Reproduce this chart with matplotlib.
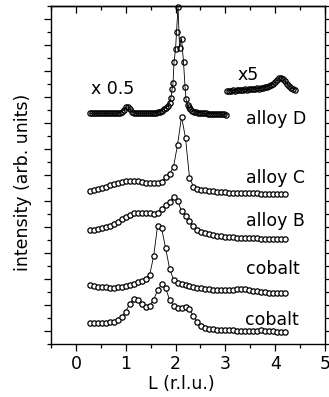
import matplotlib
matplotlib.use("Agg")
import matplotlib.pyplot as plt
from matplotlib.ticker import MultipleLocator

# ---------------- data ----------------
L_scan = [0.28, 0.36, 0.44, 0.52, 0.60, 0.68, 0.76, 0.84, 0.92, 1.00,
          1.08, 1.16, 1.24, 1.32, 1.40, 1.48, 1.56, 1.64, 1.72, 1.80,
          1.88, 1.96, 2.04, 2.12, 2.20, 2.28, 2.36, 2.44, 2.52, 2.60,
          2.68, 2.76, 2.84, 2.92, 3.00, 3.08, 3.16, 3.24, 3.32, 3.40,
          3.48, 3.56, 3.64, 3.72, 3.80, 3.88, 3.96, 4.04, 4.12, 4.20]

cobalt_1 = [1.59, 1.58, 1.58, 1.60, 1.62, 1.66, 1.70, 1.82, 2.05, 2.50,
            3.08, 3.44, 3.36, 3.08, 2.88, 2.94, 3.42, 4.12, 4.59, 4.30,
            3.40, 2.95, 2.74, 2.76, 2.86, 2.66, 2.15, 1.70, 1.38, 1.24,
            1.18, 1.14, 1.10, 1.08, 1.06, 1.05, 1.04, 1.03, 1.02, 1.02,
            1.01, 1.00, 1.00, 1.04, 1.02, 0.98, 0.97, 0.96, 0.96, 0.95]

cobalt_2 = [4.54, 4.45, 4.40, 4.37, 4.35, 4.34, 4.34, 4.36, 4.40, 4.46,
            4.54, 4.64, 4.74, 4.86, 5.00, 5.30, 6.75, 9.10, 8.90, 7.40,
            5.80, 4.95, 4.72, 4.60, 4.52, 4.45, 4.38, 4.32, 4.28, 4.24,
            4.20, 4.18, 4.16, 4.15, 4.15, 4.15, 4.16, 4.20, 4.24, 4.22,
            4.18, 4.10, 4.05, 4.00, 3.98, 3.96, 3.94, 3.92, 3.91, 3.90]

alloy_B = [8.77, 8.80, 8.84, 8.90, 8.98, 9.10, 9.25, 9.42, 9.60, 9.78,
           9.95, 10.05, 10.10, 10.10, 10.08, 10.04, 10.00, 10.10, 10.35, 10.70,
           10.92, 11.33, 11.00, 10.25, 9.82, 9.45, 9.05, 8.80, 8.62, 8.52,
           8.44, 8.38, 8.32, 8.28, 8.24, 8.22, 8.20, 8.18, 8.16, 8.15,
           8.14, 8.13, 8.12, 8.11, 8.10, 8.10, 8.09, 8.09, 8.08, 8.08]

alloy_C = [11.79, 11.85, 11.92, 12.00, 12.10, 12.22, 12.32, 12.42, 12.50, 12.55,
           12.56, 12.55, 12.52, 12.48, 12.42, 12.38, 12.36, 12.38, 12.50, 12.82,
           13.08, 13.65, 15.31, 17.49, 15.85, 12.80, 12.10, 11.95, 11.88, 11.82,
           11.78, 11.74, 11.71, 11.68, 11.66, 11.64, 11.63, 11.62, 11.61, 11.60,
           11.59, 11.58, 11.58, 11.57, 11.56, 11.56, 11.55, 11.55, 11.54, 11.54]

L_D = [0.28, 0.32, 0.36, 0.40, 0.44, 0.48, 0.52, 0.56, 0.60, 0.64,
       0.68, 0.72, 0.76, 0.80, 0.84, 0.88, 0.92, 0.96, 1.00, 1.04,
       1.08, 1.12, 1.16, 1.20, 1.24, 1.28, 1.32, 1.36, 1.40, 1.44,
       1.48, 1.52, 1.56, 1.60, 1.64, 1.68, 1.72, 1.76, 1.80, 1.84,
       1.88, 1.91, 1.93, 1.95, 1.97, 2.00, 2.02, 2.05, 2.08, 2.12,
       2.16, 2.19, 2.21, 2.24, 2.27, 2.30, 2.34, 2.38, 2.42, 2.46,
       2.50, 2.54, 2.58, 2.62, 2.66, 2.70, 2.74, 2.78, 2.82, 2.86,
       2.90, 2.94, 2.98, 3.02]
alloy_D_half = [17.75, 17.74, 17.76, 17.75, 17.74, 17.76, 17.75, 17.74, 17.75, 17.76,
                17.75, 17.74, 17.76, 17.75, 17.76, 17.80, 17.86, 18.00, 18.20, 18.25,
                18.05, 17.86, 17.78, 17.75, 17.74, 17.75, 17.74, 17.75, 17.74, 17.75,
                17.74, 17.75, 17.76, 17.78, 17.82, 17.88, 17.95, 18.05, 18.15, 18.30,
                18.55, 18.95, 19.60, 20.10, 21.70, 22.70, 24.00, 25.95, 22.80, 23.50,
                21.70, 19.80, 18.85, 18.40, 18.20, 18.05, 17.95, 17.88, 17.83, 17.80,
                17.78, 17.76, 17.75, 17.74, 17.73, 17.72, 17.72, 17.71, 17.70, 17.69,
                17.68, 17.67, 17.66, 17.65]

L_x5 = [3.04, 3.08, 3.12, 3.16, 3.20, 3.24, 3.28, 3.32, 3.36, 3.40,
        3.44, 3.48, 3.52, 3.56, 3.60, 3.64, 3.68, 3.72, 3.76, 3.80,
        3.84, 3.88, 3.92, 3.96, 4.00, 4.04, 4.08, 4.12, 4.16, 4.20,
        4.24, 4.28, 4.32, 4.36, 4.40]
alloy_D_x5 = [19.45, 19.50, 19.48, 19.52, 19.50, 19.53, 19.55, 19.52, 19.56, 19.58,
              19.55, 19.60, 19.62, 19.60, 19.64, 19.66, 19.65, 19.70, 19.72, 19.75,
              19.80, 19.85, 19.92, 20.00, 20.12, 20.28, 20.45, 20.50, 20.38, 20.20,
              20.00, 19.85, 19.72, 19.62, 19.55]

labels = ["cobalt", "cobalt", "alloy B", "alloy C", "alloy D"]
label_x = [3.40, 3.42, 3.41, 3.41, 3.41]
label_y = [1.46, 5.38, 9.08, 12.41, 16.92]
x_ticks = [0, 1, 2, 3, 4, 5]

# ---------------- figure ----------------
plt.rcParams['font.family'] = ['DejaVu Sans']
FS = 12.5
fig = plt.figure(figsize=(3.29, 3.97), dpi=100)
ax = fig.add_axes([51/329, 53/397, 274/329, 338/397])

style = dict(color='black', lw=0.6, marker='o', ms=3.8, mfc='white',
             mec='black', mew=0.9, clip_on=False)
for ys in [cobalt_1, cobalt_2, alloy_B, alloy_C]:
    ax.plot(L_scan, ys, **style)
dense = dict(style, mfc='none')
ax.plot(L_D, alloy_D_half, **dense)
ax.plot(L_x5, alloy_D_x5, **dense)

for t, x, y in zip(labels, label_x, label_y):
    ax.text(x, y, t, fontsize=FS, ha='left', va='baseline')
ax.text(0.74, 19.65, "x 0.5", fontsize=FS, ha='center', va='center')
ax.text(3.46, 20.7, "x5", fontsize=FS, ha='center', va='center')

ax.set_xlim(-0.5, 5.0)
ax.set_ylim(0, 26)
ax.set_xticks(x_ticks)
ax.xaxis.set_minor_locator(MultipleLocator(0.5))
ax.set_yticks(range(1, 26, 2))
ax.yaxis.set_minor_locator(MultipleLocator(1))
ax.tick_params(axis='both', which='both', labelsize=FS, width=0.9, color='black')
ax.tick_params(axis='x', which='major', direction='out', length=5, pad=3, top=False)
ax.tick_params(axis='x', which='minor', direction='out', length=3, top=False)
ax.tick_params(axis='y', which='major', direction='out', length=5, right=True,
               labelleft=False)
ax.tick_params(axis='y', which='minor', direction='out', length=3, right=True)

# top axis: inward ticks, no labels
top = ax.secondary_xaxis('top')
top.set_xticks(x_ticks)
top.xaxis.set_minor_locator(MultipleLocator(0.5))
top.tick_params(axis='x', which='major', direction='in', length=5, width=0.9,
                labeltop=False)
top.tick_params(axis='x', which='minor', direction='in', length=3, width=0.9)
top.spines['top'].set_linewidth(1.0)

for sp in ax.spines.values():
    sp.set_linewidth(1.0)

ax.set_xlabel("L (r.l.u.)", fontsize=FS)
ax.xaxis.set_label_coords(0.474, -0.092)
ax.set_ylabel("intensity (arb. units)", fontsize=FS)
ax.yaxis.set_label_coords(-0.069, 0.479)

fig.savefig("out.png", dpi=100)
